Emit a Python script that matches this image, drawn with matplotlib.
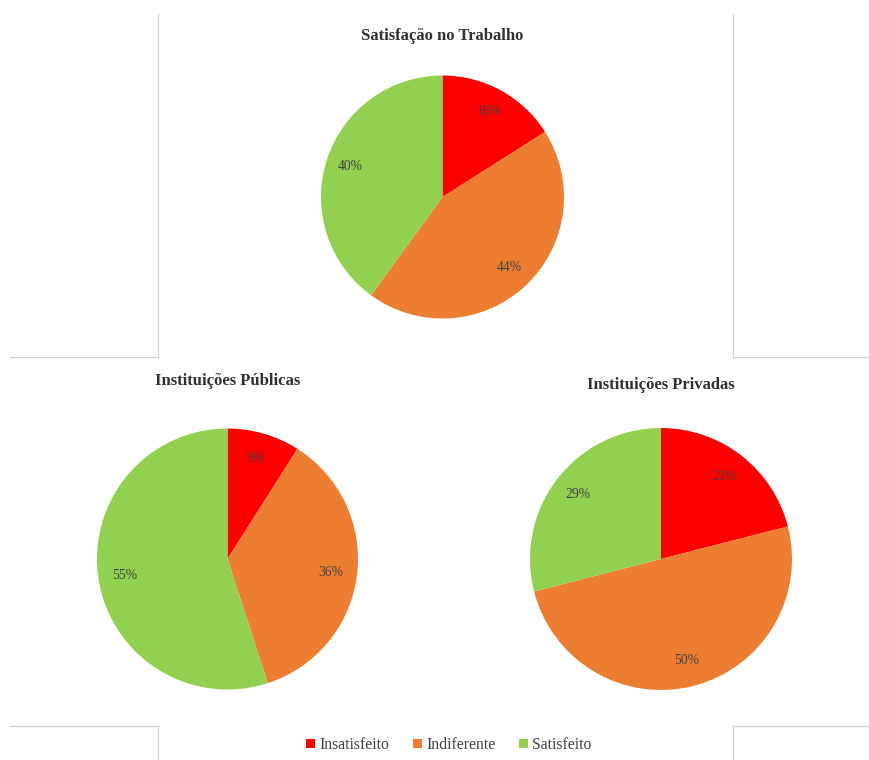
import matplotlib
matplotlib.use("Agg")
import matplotlib.pyplot as plt
from matplotlib.lines import Line2D
from matplotlib.patches import Patch

plt.rcParams['font.family'] = ['Liberation Serif', 'DejaVu Serif']

categories = ["Insatisfeito", "Indiferente", "Satisfeito"]
colors = ["#FF0000", "#ED7D31", "#92D050"]
titles = ["Satisfação no Trabalho", "Instituições Públicas", "Instituições Privadas"]
total_vals = [16, 44, 40]
publicas_vals = [9, 36, 55]
privadas_vals = [21, 50, 29]

W, H = 869, 760
fig = plt.figure(figsize=(W / 100, H / 100), dpi=100)

def px_axes(cx, cy, r):
    return fig.add_axes([(cx - r) / W, (H - cy - r) / H, 2 * r / W, 2 * r / H])

specs = [
    (total_vals, titles[0], (442.5, 197, 121.5), 36),
    (publicas_vals, titles[1], (227.5, 559, 130.5), 381),
    (privadas_vals, titles[2], (661, 559, 131), 385),
]

for vals, title, (cx, cy, r), ty in specs:
    ax = px_axes(cx, cy, r)
    ax.pie(vals, colors=colors, startangle=90, counterclock=False,
           autopct=lambda p: f"{p:.0f}%", pctdistance=0.8,
           textprops=dict(fontsize=9.8, color="#404040"),
           wedgeprops=dict(linewidth=0))
    ax.set_aspect('equal')
    ax.set_xlim(-1, 1); ax.set_ylim(-1, 1)
    ax.axis('off')
    fig.text(cx / W, 1 - ty / H, title, ha='center', va='center',
             fontsize=12, fontweight='bold', color='#303030')

def hline(x0, x1, y):
    fig.add_artist(Line2D([x0 / W, x1 / W], [1 - y / H, 1 - y / H],
                          transform=fig.transFigure, color='#D0D0D0', lw=0.9))

def vline(x, y0, y1):
    fig.add_artist(Line2D([x / W, x / W], [1 - y0 / H, 1 - y1 / H],
                          transform=fig.transFigure, color='#D0D0D0', lw=0.9))

vline(158, 14, 357); hline(10, 158, 357)
vline(732.5, 14, 357); hline(732.5, 868, 357)
hline(10, 158, 726); vline(158, 726, 760)
hline(732.5, 868, 726); vline(732.5, 726, 760)

handles = [Patch(facecolor=c, edgecolor='none') for c in colors]
fig.legend(handles, categories, loc='center', bbox_to_anchor=(449 / W, 1 - 745 / H),
           ncol=3, frameon=False, fontsize=11.3, handlelength=0.55, handleheight=0.55,
           handletextpad=0.3, columnspacing=1.5, labelcolor='#404040')

fig.savefig("out.png", dpi=100, facecolor='white')
